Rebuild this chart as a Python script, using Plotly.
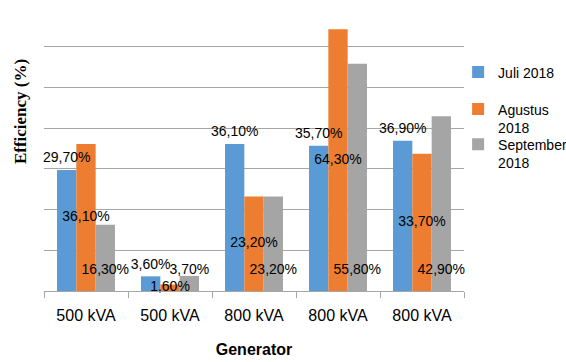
import plotly.graph_objects as go

categories = ["500 kVA", "500 kVA", "800 kVA", "800 kVA", "800 kVA"]
juli = [29.7, 3.6, 36.1, 35.7, 36.9]
agustus = [36.1, 1.6, 23.2, 64.3, 33.7]
september = [16.3, 3.7, 23.2, 55.8, 42.9]
series_names = ["Juli 2018", "Agustus<br>2018", "September<br>2018"]
colors = ["#5B9BD5", "#ED7D31", "#A5A5A5"]

x = list(range(len(categories)))

def fmt(v):
    return f"{v:.2f}".replace(".", ",") + "%"

FONT = "Liberation Sans, Arial, sans-serif"
LABEL_BASE = 5.0  # height (data units) where the base labels of the 3rd series sit

series = [juli, agustus, september]
legends = ["legend", "legend2", "legend3"]

fig = go.Figure()
for k, (vals, name, col, lg) in enumerate(zip(series, series_names, colors, legends)):
    fig.add_trace(go.Bar(
        x=x, y=vals, name=name, marker=dict(color=col, line=dict(width=0)),
        offsetgroup=str(k), legend=lg,
    ))

# data labels layer (drawn above all bars)
label_y = [
    juli,                                  # outside end
    [v / 2 for v in agustus],              # centred
    [LABEL_BASE for _ in september],       # inside base
]
label_pos = ["top center", "middle center", "middle center"]
label_mode = ["markers+text", "text", "text"]
for k, (vals, ly, tp, md) in enumerate(zip(series, label_y, label_pos, label_mode)):
    fig.add_trace(go.Scatter(
        x=x, y=ly, mode=md, text=[fmt(v) for v in vals], textposition=tp,
        marker=dict(size=5, opacity=0),
        textfont=dict(family=FONT, size=14, color="#000000"),
        offsetgroup=str(k), showlegend=False, hoverinfo="skip", cliponaxis=False,
    ))

fig.update_layout(
    width=566, height=362,
    margin=dict(l=44, r=102, t=6, b=71, autoexpand=False),
    paper_bgcolor="white", plot_bgcolor="white",
    barmode="group", bargap=0.31, bargroupgap=0,
    scattermode="group", scattergap=0.31,
    font=dict(family=FONT, size=14, color="#000000"),
    showlegend=True,
    xaxis=dict(
        range=[-0.5, len(categories) - 0.5], automargin=False,
        tickmode="array", tickvals=x, ticktext=categories,
        ticks="", showgrid=False, zeroline=False,
        showline=True, linecolor="#A6A6A6", linewidth=1,
        tickfont=dict(family=FONT, size=16, color="#000000"),
        ticklabelstandoff=10,
        minor=dict(tickmode="array", tickvals=[i - 0.5 for i in range(len(categories) + 1)],
                   ticks="outside", ticklen=6, tickcolor="#A6A6A6", tickwidth=1, showgrid=False),
        title=dict(text="<b>Generator</b>", font=dict(family=FONT, size=16, color="#000000"), standoff=20),
    ),
    yaxis=dict(
        range=[0, 70], dtick=10, showticklabels=False, ticks="", automargin=False,
        showgrid=True, gridcolor="#A6A6A6", gridwidth=1,
        zeroline=False, showline=False,
    ),
    annotations=[dict(
        text="<b>Efficiency (%)</b>", textangle=-90,
        xref="paper", yref="paper", x=-0.057, y=0.628,
        xanchor="center", yanchor="middle", showarrow=False,
        font=dict(family="Liberation Serif, Times New Roman, serif", size=17, color="#000000"),
    )],
)

leg_common = dict(xanchor="left", yanchor="top", valign="top",
                  font=dict(family=FONT, size=14, color="#000000"),
                  bgcolor="rgba(0,0,0,0)", itemclick=False, itemdoubleclick=False)
fig.update_layout(
    legend=dict(x=0.986, y=0.823, **leg_common),
    legend2=dict(x=0.986, y=0.693, **leg_common),
    legend3=dict(x=0.986, y=0.570, **leg_common),
)

fig.write_html("out.html", config={"displayModeBar": False},
               post_script="document.body.style.margin='0px';")
